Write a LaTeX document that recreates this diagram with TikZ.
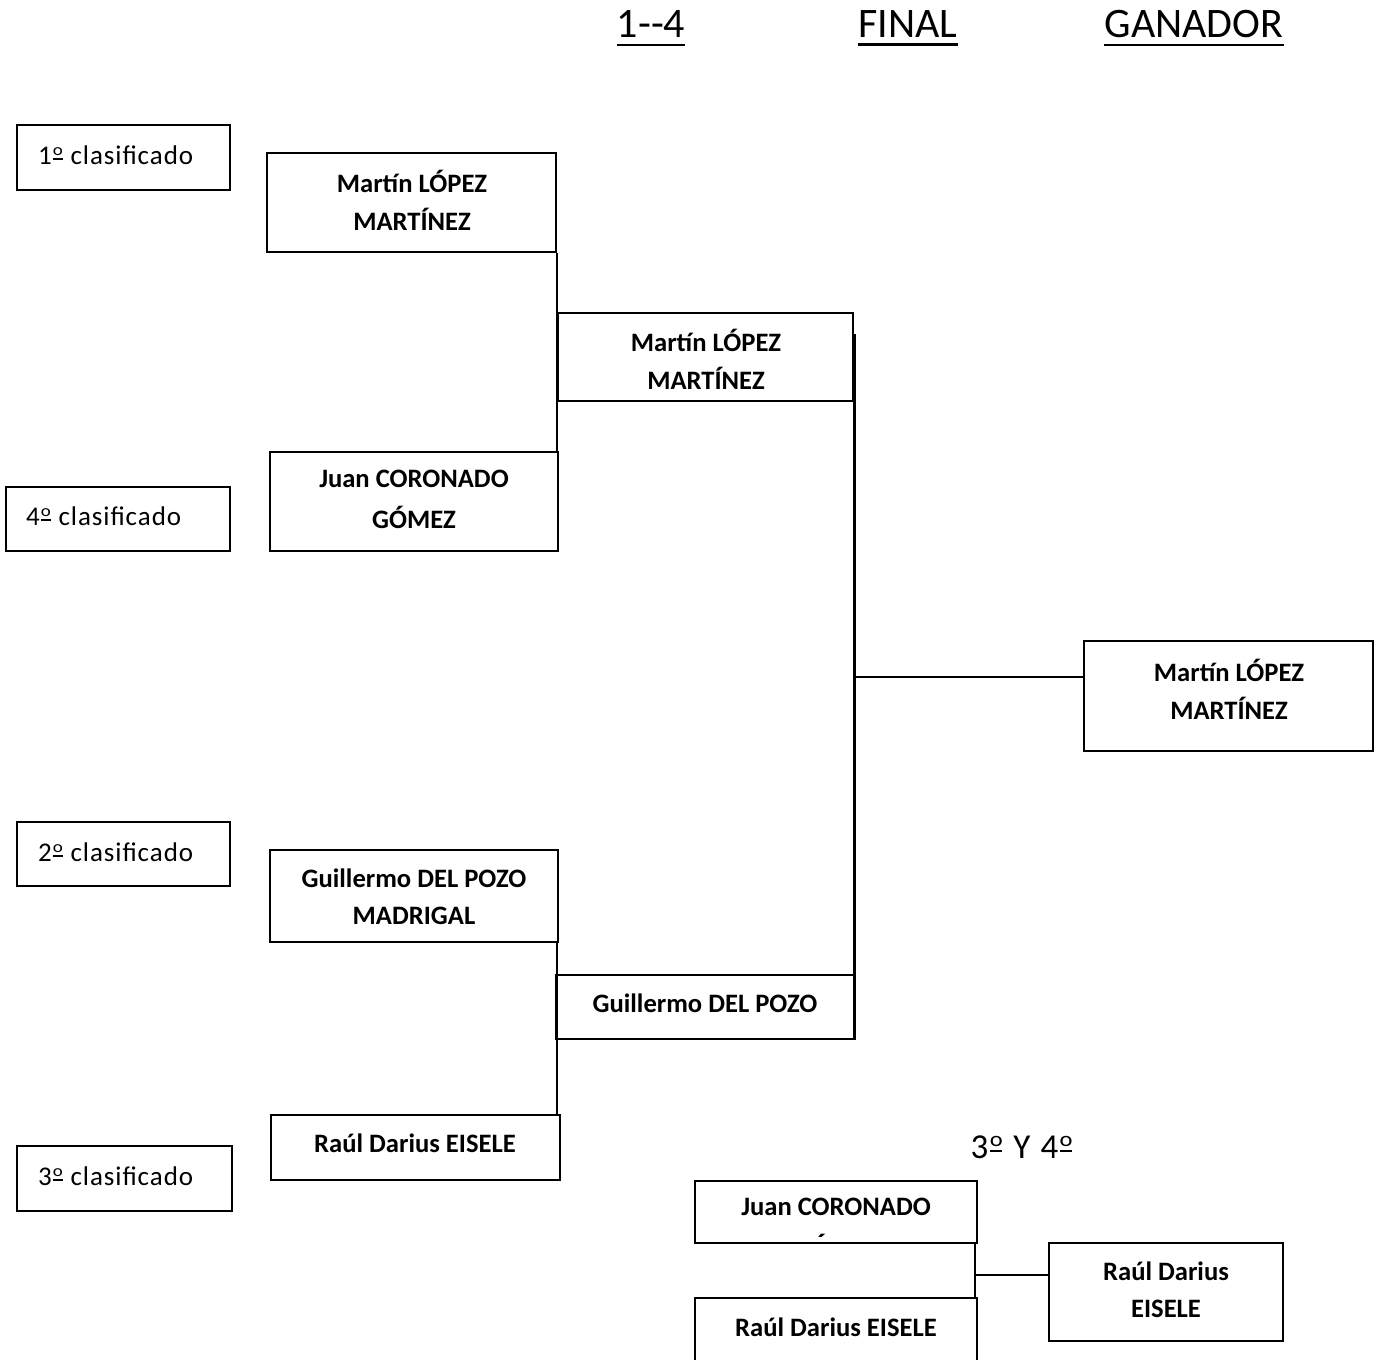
\documentclass[tikz,border=0pt]{standalone}
\usepackage{fontspec}
\setmainfont{Carlito}
\usetikzlibrary{fit,calc}
\newcommand\ordo{\kern0.04em\raisebox{0.16em}{\rlap{\rule{0.36em}{0.055em}}}\raisebox{0.34em}{\scalebox{0.7}[0.6]{o}}\kern0.02em}
\begin{document}
\begin{tikzpicture}[x=1pt,y=-1pt,
  box/.style={draw, line width=1.5pt, inner sep=0pt, fit={#1}},
  nm/.style={font=\fontsize{26.6}{30}\selectfont\bfseries, inner sep=0pt, anchor=center},
  cl/.style={font=\fontsize{27}{30}\selectfont\addfontfeatures{LetterSpace=3.5}, inner sep=0pt, anchor=west},
  ttl/.style={font=\fontsize{42}{48}\selectfont, inner sep=0pt, anchor=center},
  conn/.style={line width=2.2pt},
  thick conn/.style={line width=2.8pt}]
\useasboundingbox (0,0) rectangle (1377,1360);
% titles
\node[ttl] (t1) at (651,24) {1-{}-4};
\node[ttl] (t2) at (908,24) {FINAL};
\node[ttl] (t3) at (1194,24) {GANADOR};
\foreach \t in {t1,t2,t3}{\draw[line width=2.4pt] ($(\t.south west)+(0,7)$) -- ($(\t.south east)+(0,7)$);}
% seed boxes
\node[box={(17,125)(230,190)}] (s1) {};
\node[cl] at (38,155) {1\ordo{} clasificado};
\node[box={(6,487)(230,551)}] (s4) {};
\node[cl] at (26,516) {4\ordo{} clasificado};
\node[box={(17,822)(230,886)}] (s2) {};
\node[cl] at (38,852) {2\ordo{} clasificado};
\node[box={(17,1146)(232,1211)}] (s3) {};
\node[cl] at (38,1176) {3\ordo{} clasificado};
% first round
\node[box={(267,153)(556,252)}] (A) {};
\node[nm] at (412,181) {Martín LÓPEZ};
\node[nm] at (412,219) {MARTÍNEZ};
\node[box={(270,452)(558,551)}] (B) {};
\node[nm] at (414,479) {Juan CORONADO};
\node[nm] at (414,517) {GÓMEZ};
\node[box={(270,850)(558,942)}] (E) {};
\node[nm] at (414,878) {Guillermo DEL POZO};
\node[nm] at (414,916) {MADRIGAL};
\node[box={(271,1115)(560,1180)}] (F) {};
\node[nm] at (415,1143) {Raúl Darius EISELE};
% semis
\node[box={(558,313)(853,401)}] (C) {};
\node[nm] at (706,340) {Martín LÓPEZ};
\node[nm] at (706,378) {MARTÍNEZ};
\node[box={(556,975)(854,1039)}] (D) {};
\node[nm] at (705,1003) {Guillermo DEL POZO};
% winner
\node[box={(1084,641)(1373,751)}] (G) {};
\node[nm] at (1229,670) {Martín LÓPEZ};
\node[nm] at (1229,708) {MARTÍNEZ};
% connectors
\draw[conn] (A.south east) -- (A.south east |- B.north);
\coordinate (efx) at (557,942);
\draw[conn] (efx |- E.south) -- (efx |- F.north);
\coordinate (ctop) at ($(C.north east)+(1,22)$);
\coordinate (gjoin) at (1084,677);
\draw[thick conn] (ctop) -- (ctop |- D.south);
\draw[thick conn] (ctop |- gjoin) -- (gjoin);
% 3rd / 4th
\node[font=\fontsize{35}{40}\selectfont\addfontfeatures{LetterSpace=6}, inner sep=0pt, anchor=base] (t4) at (1022,1158) {3\ordo{} Y 4\ordo};
\node[box={(695,1181)(977,1243)}] (J) {};
\node[nm] at (836,1207) {Juan CORONADO};
\begin{scope}
\clip (697,1183) rectangle (975,1236);
\node[nm] at (836,1245) {GÓMEZ};
\end{scope}
\node[box={(695,1298)(977,1375)}] (R) {};
\node[nm] at (836,1327) {Raúl Darius EISELE};
\node[box={(1049,1243)(1283,1341)}] (W) {};
\node[nm] at (1166,1271) {Raúl Darius};
\node[nm] at (1166,1309) {EISELE};
\coordinate (vx) at (975,1275);
\coordinate (wjoin) at (1049,1275);
\draw[conn] (vx |- J.south) -- (vx |- R.north);
\draw[conn] (vx) -- (wjoin);
\end{tikzpicture}
\end{document}
